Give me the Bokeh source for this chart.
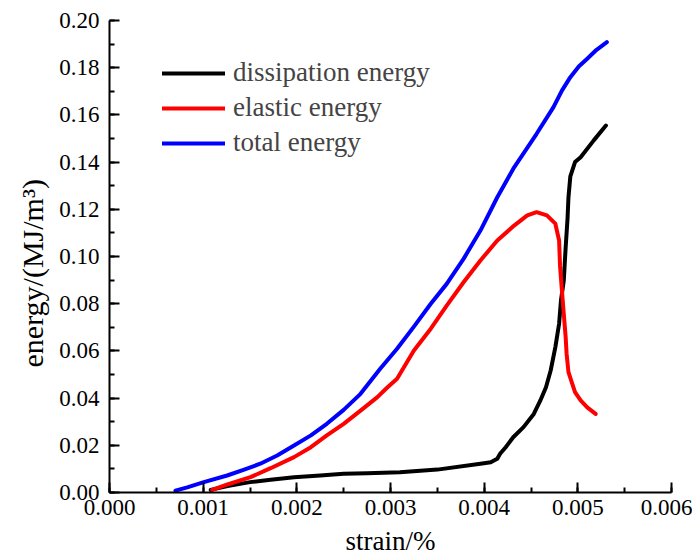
from bokeh.plotting import figure
from bokeh.models import Legend, LegendItem, SingleIntervalTicker, NumeralTickFormatter, Range1d, Title
from bokeh.embed import file_html
from bokeh.resources import INLINE

# total energy
total_x = [0.000704, 0.00083, 0.001007, 0.001256, 0.00143, 0.00161, 0.00179, 0.00197, 0.00215,
           0.00232, 0.00250, 0.00268, 0.00289, 0.00307, 0.00325, 0.00343, 0.00360, 0.00378,
           0.00396, 0.00414, 0.00432, 0.00456, 0.00474, 0.00483, 0.00492, 0.00501, 0.00510,
           0.00520, 0.00531]
total_y = [0.0008, 0.0022, 0.0044, 0.0072, 0.0096, 0.0122, 0.0157, 0.0199, 0.0242,
           0.0291, 0.0350, 0.0418, 0.0524, 0.0609, 0.0703, 0.0800, 0.0884, 0.0990,
           0.1110, 0.1251, 0.1378, 0.1520, 0.1633, 0.1703, 0.1760, 0.1805, 0.1838,
           0.1876, 0.1908]

# elastic energy
elastic_x = [0.001096, 0.00126, 0.001505, 0.00172, 0.00197, 0.00215, 0.00232, 0.00250, 0.00268,
             0.00286, 0.00296, 0.00307, 0.00325, 0.00343, 0.00360, 0.00378, 0.00396, 0.00414,
             0.00432, 0.00446, 0.00456, 0.00467, 0.00476, 0.00480, 0.00481, 0.00483,
             0.00485, 0.00487, 0.00488, 0.00490, 0.00494, 0.00497, 0.00503, 0.00510, 0.00519]
elastic_y = [0.0011, 0.0034, 0.0065, 0.0103, 0.0150, 0.0192, 0.0242, 0.0291, 0.0347,
             0.0404, 0.0443, 0.0482, 0.0602, 0.0694, 0.0792, 0.0891, 0.0983, 0.1068,
             0.1131, 0.1174, 0.1188, 0.1174, 0.1139, 0.1068, 0.0960, 0.0856,
             0.0757, 0.0658, 0.0588, 0.0510, 0.0461, 0.0425, 0.0390, 0.0361, 0.0333]

# dissipation energy
diss_x = [0.00108, 0.00126, 0.00150, 0.00172, 0.00197, 0.00225, 0.00250, 0.00275, 0.00310,
          0.00350, 0.00396, 0.00407, 0.00414, 0.00417, 0.00423, 0.00431, 0.00442, 0.00453,
          0.00460, 0.00466, 0.00471, 0.00476, 0.00480, 0.00482, 0.00485, 0.00487, 0.00489,
          0.00490, 0.00492, 0.00497, 0.00503, 0.00517, 0.00530]
diss_y = [0.0011, 0.0027, 0.0044, 0.0054, 0.0065, 0.0072, 0.0079, 0.0082, 0.0086,
          0.0097, 0.0122, 0.0128, 0.0143, 0.0164, 0.0192, 0.0234, 0.0277, 0.0333,
          0.0390, 0.0446, 0.0517, 0.0616, 0.0715, 0.0814, 0.0898, 0.1039, 0.1160,
          0.1251, 0.1340, 0.1400, 0.1421, 0.1492, 0.1555]

legend_labels = ["dissipation energy", "elastic energy", "total energy"]
x_title = "strain/%"
y_title = "energy/(MJ/m³)"

FONT = "Liberation Serif"

p = figure(width=692, height=558, output_backend="svg", toolbar_location=None,
           x_range=Range1d(0, 0.006), y_range=Range1d(0, 0.2),
           min_border_left=109, min_border_right=21, min_border_top=20, min_border_bottom=66)
p.outline_line_color = None
p.xgrid.visible = False
p.ygrid.visible = False
p.background_fill_color = "white"
p.border_fill_color = "white"

r_d = p.line(diss_x, diss_y, line_color="black", line_width=4, line_join="round", line_cap="round")
r_e = p.line(elastic_x, elastic_y, line_color="red", line_width=4, line_join="round", line_cap="round")
r_t = p.line(total_x, total_y, line_color="blue", line_width=4, line_join="round", line_cap="round")

p.xaxis.ticker = SingleIntervalTicker(interval=0.001, num_minor_ticks=2)
p.yaxis.ticker = SingleIntervalTicker(interval=0.02, num_minor_ticks=2)
p.xaxis.formatter = NumeralTickFormatter(format="0.000")
p.yaxis.formatter = NumeralTickFormatter(format="0.00")

for ax in (p.xaxis[0], p.yaxis[0]):
    ax.axis_line_width = 2
    ax.axis_line_color = "black"
    ax.major_tick_line_width = 2
    ax.minor_tick_line_width = 2
    ax.major_tick_in = 10
    ax.major_tick_out = 0
    ax.minor_tick_in = 5
    ax.minor_tick_out = 0
    ax.major_label_text_font = FONT
    ax.major_label_text_font_size = "23px"
    ax.major_label_text_color = "black"

p.xaxis.major_label_standoff = 7
p.yaxis.major_label_standoff = 10

p.xaxis.axis_label = x_title
p.xaxis.axis_label_text_font = FONT
p.xaxis.axis_label_text_font_size = "27px"
p.xaxis.axis_label_text_font_style = "normal"
p.xaxis.axis_label_text_color = "black"
p.xaxis.axis_label_text_line_height = 1.0
p.xaxis.axis_label_standoff = 8

ytitle = Title(text=y_title, align="left", offset=125, standoff=16,
               text_font=FONT, text_font_size="30px", text_font_style="normal",
               text_color="black")
p.add_layout(ytitle, "left")

legend = Legend(items=[LegendItem(label=legend_labels[0], renderers=[r_d]),
                       LegendItem(label=legend_labels[1], renderers=[r_e]),
                       LegendItem(label=legend_labels[2], renderers=[r_t])],
                location=(53, 334), glyph_width=63, glyph_height=20, label_height=20,
                spacing=4, padding=0, margin=0, label_standoff=8,
                label_text_font=FONT, label_text_font_size="27px",
                border_line_color=None, background_fill_alpha=0)
p.add_layout(legend, "center")

open("out.html", "w").write(file_html(p, INLINE))
